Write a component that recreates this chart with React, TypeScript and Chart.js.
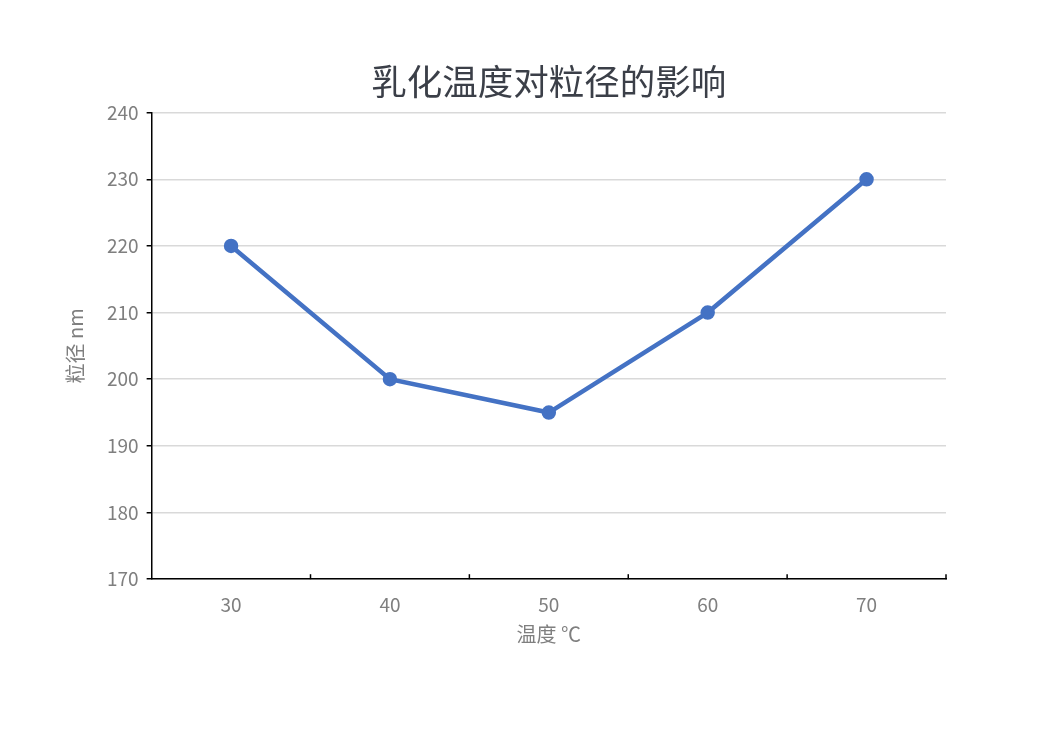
import React, { useEffect, useRef } from "react";
import { Chart, registerables } from "chart.js";

Chart.register(...registerables);

const categories = ["30", "40", "50", "60", "70"];
const sizes = [220, 200, 195, 210, 230];
const yMin = 170;
const yMax = 240;
const yStep = 10;
const titleText = "乳化温度对粒径的影响";
const xTitle = "温度 ℃";
const yTitle = "粒径 nm";

const FONT = "'Noto Sans CJK SC', 'Noto Sans', sans-serif";

const innerTicks = {
  id: "innerTicks",
  afterDraw(chart: any) {
    const x = chart.scales.x;
    const ctx = chart.ctx;
    const n = chart.data.labels.length;
    ctx.save();
    ctx.strokeStyle = "#000000";
    ctx.lineWidth = 1.5;
    const bottom = chart.chartArea.bottom;
    for (let i = 1; i <= n; i++) {
      const px = (x.getPixelForValue(i - 1) + (i < n ? x.getPixelForValue(i) : x.getPixelForValue(i - 1) * 2 - x.getPixelForValue(i - 2))) / 2;
      ctx.beginPath();
      ctx.moveTo(px, bottom);
      ctx.lineTo(px, bottom - 5);
      ctx.stroke();
    }
    ctx.restore();
  },
};

export default function App() {
  const ref = useRef<HTMLCanvasElement>(null);
  useEffect(() => {
    if (!ref.current) return;
    const chart = new Chart(ref.current, {
      type: "line",
      data: {
        labels: categories,
        datasets: [
          {
            data: sizes,
            borderColor: "#4472C4",
            backgroundColor: "#4472C4",
            borderWidth: 4.5,
            pointRadius: 5,
            pointBackgroundColor: "#4472C4",
            pointBorderColor: "#4472C4",
            tension: 0,
          },
        ],
      },
      options: {
        animation: false,
        responsive: false,
        maintainAspectRatio: false,
        layout: { padding: { top: 60, left: 63, right: 92, bottom: 84 } },
        plugins: {
          legend: { display: false },
          tooltip: { enabled: false },
          title: {
            display: true,
            fullSize: false,
            text: titleText,
            color: "#3b3f48",
            font: { family: FONT, size: 35.5, weight: "normal" },
            padding: { top: 0, bottom: 10 },
          },
        },
        scales: {
          x: {
            offset: true,
            grid: { display: false, drawOnChartArea: false },
            border: { display: true, color: "#000000", width: 1.5 },
            ticks: {
              color: "#7f7f7f",
              font: { family: FONT, size: 19 },
              padding: 6,
            },
            title: {
              display: true,
              text: xTitle,
              color: "#7f7f7f",
              font: { family: FONT, size: 20 },
              padding: { top: 0, bottom: 0 },
            },
          },
          y: {
            min: yMin,
            max: yMax,
            grid: {
              color: "#d9d9d9",
              lineWidth: 1.5,
              tickColor: "#000000",
              tickLength: 5,
            },
            border: { display: true, color: "#000000", width: 1.5 },
            ticks: {
              stepSize: yStep,
              color: "#7f7f7f",
              font: { family: FONT, size: 19 },
              padding: 8,
            },
            title: {
              display: true,
              text: yTitle,
              color: "#7f7f7f",
              font: { family: FONT, size: 20 },
              padding: { top: 0, bottom: 12 },
            },
          },
        },
      },
      plugins: [innerTicks],
    });
    return () => chart.destroy();
  }, []);
  return (
    <div style={{ position: "fixed", left: 0, top: 0, width: 1038, height: 730, background: "#ffffff" }}>
      <canvas ref={ref} width={1038} height={730} style={{ width: 1038, height: 730 }} />
    </div>
  );
}
